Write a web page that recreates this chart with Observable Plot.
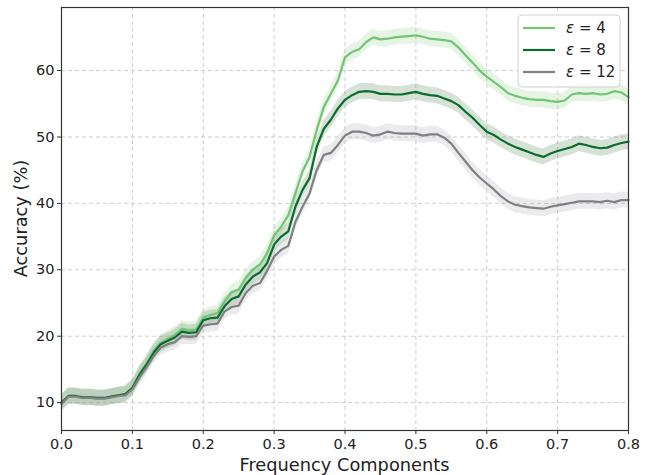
<!DOCTYPE html>
<html>
<head>
<meta charset="utf-8">
<script src="https://cdn.jsdelivr.net/npm/d3@7"></script>
<script src="https://cdn.jsdelivr.net/npm/@observablehq/plot@0.6"></script>
<style>
  html, body { margin: 0; padding: 0; background: #fff; }
  #chart svg { display: block; }
</style>
</head>
<body>
<div id="chart"></div>
<script>
const freq = d3.range(0, 81).map(i => +(i / 100).toFixed(2));

const eps4 = [10.0, 11.0, 11.0, 10.8, 10.8, 10.7, 10.7, 10.9, 11.1, 11.3,
  12.3, 14.3, 15.9, 17.8, 19.0, 19.6, 20.2, 21.1, 20.9, 21.0,
  22.8, 23.2, 23.5, 25.2, 26.6, 27.0, 28.8, 30.0, 30.8, 32.5,
  35.2, 36.5, 38.2, 41.5, 44.8, 47.0, 51.0, 54.5, 56.5, 58.5,
  62.0, 62.8, 63.2, 64.3, 65.0, 64.7, 64.8, 65.0, 65.1, 65.2,
  65.3, 65.1, 64.8, 64.7, 64.6, 64.4, 63.5, 62.3, 61.2, 60.0,
  59.1, 58.3, 57.5, 56.6, 56.2, 55.9, 55.7, 55.6, 55.6, 55.4,
  55.3, 55.5, 56.4, 56.6, 56.5, 56.6, 56.4, 56.5, 56.9, 56.7, 56.0];

const eps8 = [10.0, 11.0, 11.0, 10.8, 10.8, 10.7, 10.7, 10.9, 11.1, 11.3,
  12.2, 14.2, 15.7, 17.5, 18.8, 19.3, 19.8, 20.7, 20.5, 20.6,
  22.4, 22.7, 22.8, 24.5, 25.6, 26.0, 27.8, 29.0, 29.6, 31.0,
  33.8, 35.0, 35.8, 39.5, 42.0, 43.8, 48.5, 51.2, 52.6, 54.3,
  55.6, 56.3, 56.8, 56.9, 56.8, 56.5, 56.5, 56.4, 56.4, 56.6,
  56.8, 56.5, 56.3, 56.2, 55.8, 55.4, 54.8, 53.8, 52.9, 51.8,
  50.8, 50.3, 49.6, 49.0, 48.5, 48.1, 47.7, 47.3, 47.0, 47.5,
  47.9, 48.2, 48.5, 49.0, 48.8, 48.5, 48.3, 48.4, 48.8, 49.1, 49.3];

const eps12 = [9.8, 10.9, 10.9, 10.7, 10.7, 10.6, 10.6, 10.8, 11.0, 11.1,
  12.0, 13.8, 15.3, 17.0, 18.3, 18.8, 19.1, 20.0, 19.9, 20.0,
  21.6, 21.8, 21.9, 23.7, 24.4, 24.6, 26.5, 27.6, 28.0, 29.8,
  32.0, 33.0, 33.6, 37.2, 39.5, 41.5, 45.0, 47.3, 47.6, 48.8,
  50.2, 50.8, 50.8, 50.6, 50.2, 50.4, 50.8, 50.6, 50.5, 50.5,
  50.5, 50.2, 50.4, 50.4, 49.9, 49.0, 47.6, 46.3, 45.0, 43.9,
  43.0, 42.1, 41.1, 40.3, 39.8, 39.6, 39.4, 39.3, 39.2, 39.5,
  39.7, 39.9, 40.1, 40.3, 40.3, 40.3, 40.2, 40.4, 40.2, 40.5, 40.5];

const seriesNames = ["ε = 4", "ε = 8", "ε = 12"];
const seriesValues = [eps4, eps8, eps12];
const seriesSpread = [1.2, 1.2, 1.2];
const lineColors = ["#74c476", "#0b6b31", "#808080"];
const bandColors = ["#a1d99b", "#5d8a5d", "#b0b0b8"];
const bandOpacity = [0.28, 0.25, 0.25];
const xTicks = [0, 0.1, 0.2, 0.3, 0.4, 0.5, 0.6, 0.7, 0.8];
const yTicks = [10, 20, 30, 40, 50, 60];

const rows = [];
seriesValues.forEach((vals, s) => {
  vals.forEach((v, i) => rows.push({
    series: seriesNames[s], idx: s, x: freq[i], y: v,
    lo: v - seriesSpread[s], hi: v + seriesSpread[s]
  }));
});

const W = 650, H = 475;
const font = "DejaVu Sans, sans-serif";

const marks = [
  Plot.gridX(xTicks, {stroke: "#b0b0b0", strokeOpacity: 0.8, strokeDasharray: "4,3", strokeWidth: 0.8}),
  Plot.gridY(yTicks, {stroke: "#b0b0b0", strokeOpacity: 0.8, strokeDasharray: "4,3", strokeWidth: 0.8}),
];
seriesNames.forEach((name, s) => {
  marks.push(Plot.areaY(rows.filter(d => d.idx === s), {
    x: "x", y1: "lo", y2: "hi", fill: bandColors[s], fillOpacity: bandOpacity[s], curve: "linear"
  }));
});
seriesNames.forEach((name, s) => {
  marks.push(Plot.lineY(rows.filter(d => d.idx === s), {
    x: "x", y: "y", stroke: lineColors[s], strokeWidth: 2.2, curve: "linear"
  }));
});
marks.push(
  Plot.axisX(xTicks, {tickFormat: d3.format(".1f"), tickSize: 4, tickPadding: 4, label: null, stroke: "#333", fill: "#222"}),
  Plot.axisY(yTicks, {tickSize: 4, tickPadding: 3, label: null, stroke: "#333", fill: "#222"}),
  Plot.frame({stroke: "#333", strokeWidth: 1.2})
);

const plot = Plot.plot({
  width: W, height: H,
  marginTop: 7, marginBottom: 45, marginLeft: 61, marginRight: 22,
  style: {fontFamily: font, fontSize: "14.5px", color: "#222", background: "#fff"},
  x: {domain: [0, 0.8]},
  y: {domain: [5.8, 69.5]},
  marks
});

const svg = d3.select(plot);
// axis labels
svg.append("text").attr("x", (61 + 628) / 2).attr("y", 471)
  .attr("text-anchor", "middle").attr("font-family", font).attr("font-size", 17.8).attr("fill", "#222")
  .text("Frequency Components");
svg.append("text").attr("transform", "translate(27," + (7 + 430) / 2 + ") rotate(-90)")
  .attr("text-anchor", "middle").attr("font-family", font).attr("font-size", 17.8).attr("fill", "#222")
  .text("Accuracy (%)");

// legend
const lg = svg.append("g");
lg.append("rect").attr("x", 518).attr("y", 15).attr("width", 102).attr("height", 72)
  .attr("rx", 4).attr("fill", "#fff").attr("fill-opacity", 0.85).attr("stroke", "#d0d0d0");
const legY = [28, 50, 72];
seriesNames.forEach((name, s) => {
  lg.append("line").attr("x1", 523).attr("x2", 555).attr("y1", legY[s]).attr("y2", legY[s])
    .attr("stroke", lineColors[s]).attr("stroke-width", 2.2);
  const t = lg.append("text").attr("x", 566).attr("y", legY[s] + 5).attr("text-anchor", "start")
    .attr("font-family", font).attr("font-size", 15).attr("fill", "#222");
  const parts = name.split(" = ");
  t.append("tspan").attr("font-style", "italic").text(parts[0]);
  t.append("tspan").text(" = " + parts[1]);
});

document.getElementById("chart").appendChild(plot);
</script>
</body>
</html>
